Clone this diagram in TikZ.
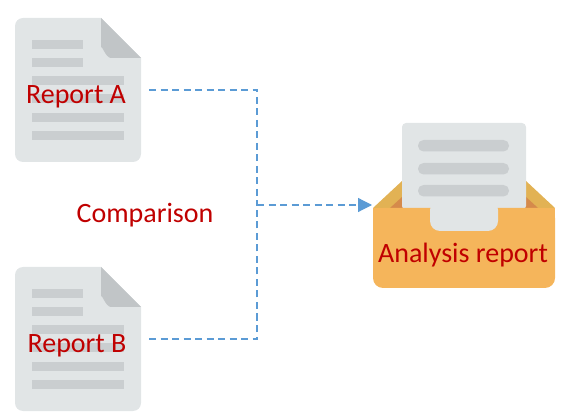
\documentclass[tikz,border=0pt]{standalone}
\usepackage{fontspec}
\setmainfont{Carlito}
\usetikzlibrary{arrows.meta}
\definecolor{docgray}{HTML}{E1E5E6}
\definecolor{linegray}{HTML}{CACED0}
\definecolor{foldgray}{HTML}{C1C5C7}
\definecolor{trayorange}{HTML}{F5B55B}
\definecolor{flapyellow}{HTML}{E2B254}
\definecolor{flapdark}{HTML}{D58A4B}
\definecolor{linkblue}{HTML}{5B9BD5}
\definecolor{labelred}{HTML}{C00000}
\tikzset{
	label/.style={text=labelred, font=\fontsize{28}{30}\selectfont, inner sep=0pt},
	link/.style={linkblue, line width=1.2pt, dash pattern=on 7pt off 4.5pt},
}
\begin{document}
\begin{tikzpicture}[x=1pt, y=-1pt]
		\useasboundingbox (0,0) rectangle (575,419);
		% the two documents
		\foreach \dy in {0,249} {
			\fill[docgray] (101,18+\dy) -- (141,58+\dy) [rounded corners=8pt] -- (141,162+\dy) -- (15,162+\dy) -- (15,18+\dy) [sharp corners] -- (101,18+\dy) -- cycle;
			\fill[foldgray] (101,18+\dy) -- (141,58+\dy) -- (111,58+\dy) to[out=180,in=90] (101,48+\dy) -- cycle;
			\fill[linegray] (32,40+\dy) rectangle (83,49+\dy);
			\fill[linegray] (32,58+\dy) rectangle (83,67+\dy);
			\foreach \ly in {76,94,113,131}
				\fill[linegray] (32,\ly+\dy) rectangle (124,\ly+9+\dy);
		}
		% the tray
		\fill[flapyellow] (373,208) -- (402,181) -- (526,181) -- (555,208) -- cycle;
		\fill[flapdark] (390,208) -- (402,197) -- (526,197) -- (538,208) -- cycle;
		\fill[docgray, rounded corners=4pt] (402,210) -- (402,123) -- (526,123) -- (526,210) -- cycle;
		\foreach \ly in {140,163,185}
			\fill[linegray, rounded corners=5.5pt] (418,\ly) rectangle (509,\ly+11.5);
		\fill[trayorange, rounded corners=10pt] (373,208) -- (373,288) -- (555,288) -- (555,208) -- cycle;
		\fill[trayorange] (373,208) rectangle (383,220);
		\fill[trayorange] (545,208) rectangle (555,220);
		\fill[docgray, rounded corners=10pt] (430,200) -- (430,231) -- (498,231) -- (498,200) -- cycle;
		% labels
		\node[label] (reportA) at (76,97) {Report A};
		\node[label] (reportB) at (77,346) {Report B};
		\node[label] (comparison) at (145,215) {Comparison};
		\node[label] (analysis) at (463,255) {Analysis report};
		% connectors
		\coordinate (outA) at (149,90);
		\coordinate (outB) at (149,339);
		\coordinate (joint) at (257,205);
		\coordinate (tray) at (372,205);
		\draw[link] (outA) -| (joint);
		\draw[link] (outB) -| (joint);
		\draw[link, -{Triangle[length=14pt,width=14pt]}] (joint) -- (tray);
	\end{tikzpicture}
\end{document}
